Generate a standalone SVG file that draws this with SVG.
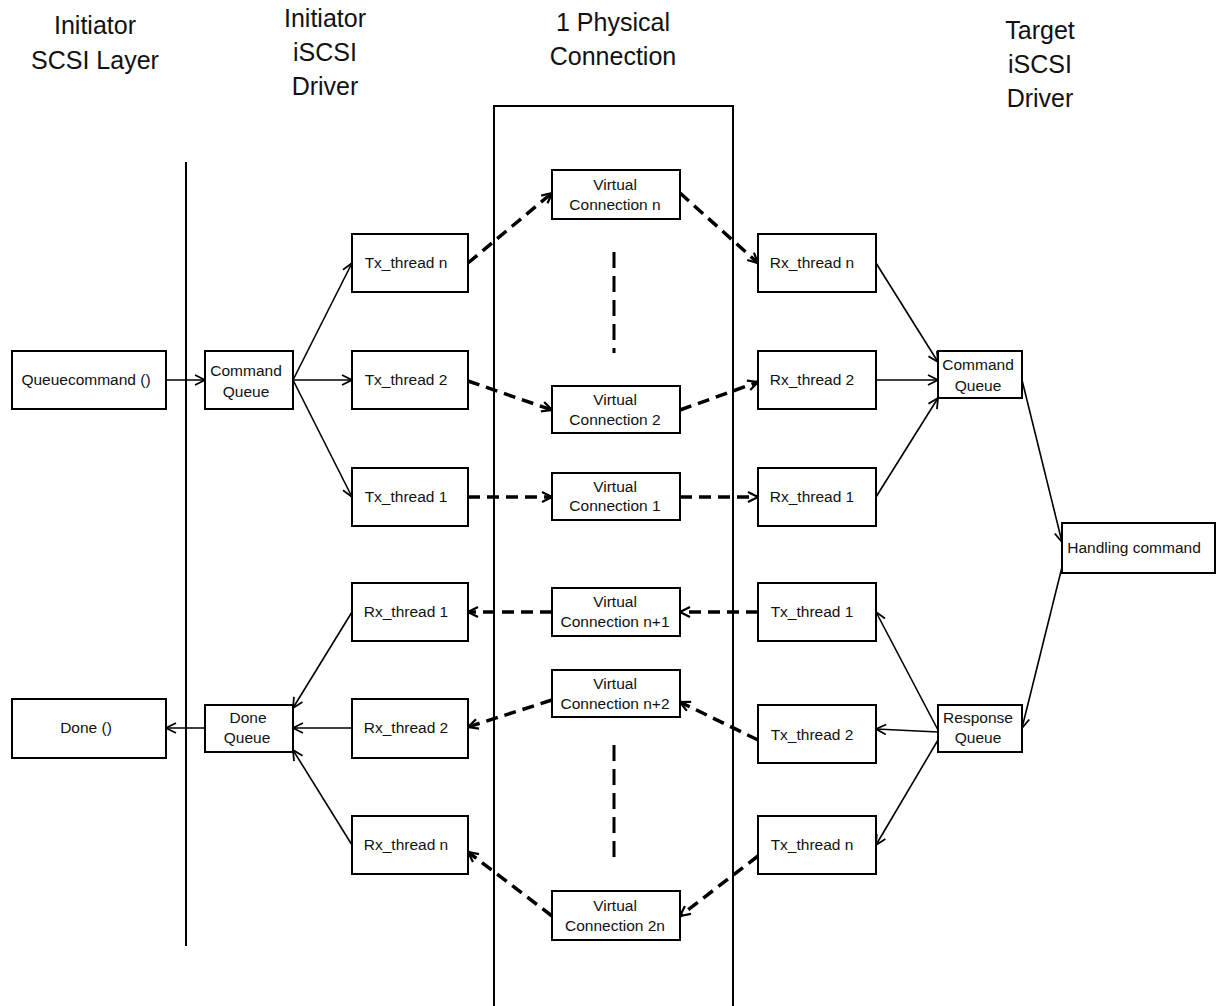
<svg xmlns="http://www.w3.org/2000/svg" width="1218" height="1006" viewBox="0 0 1218 1006">
  <style>
    .box { fill: #fff; stroke: #000; stroke-width: 2; }
    .lbl { font-family: "Liberation Sans", Arial, sans-serif; font-size: 15.5px; fill: #111; text-anchor: middle; }
    .hdr { font-family: "Liberation Sans", Arial, sans-serif; font-size: 25px; fill: #111; text-anchor: middle; }
    .solid { fill: none; stroke: #000; stroke-width: 1.6; marker-end: url(#arrow); }
    .dash { fill: none; stroke: #000; stroke-width: 3.5; stroke-dasharray: 12 7; marker-end: url(#arrowBold); }
    .frame { fill: none; stroke: #000; stroke-width: 2; }
    .gap { fill: none; stroke: #000; stroke-width: 3; stroke-dasharray: 16 8; }
  </style>
  <defs>
    <marker id="arrow" viewBox="0 0 12 12" refX="11" refY="6" markerWidth="12" markerHeight="12" markerUnits="userSpaceOnUse" orient="auto">
      <path d="M1,1 L11,6 L1,11" fill="none" stroke="#000" stroke-width="1.8"/>
    </marker>
    <marker id="arrowBold" viewBox="0 0 12 12" refX="11" refY="6" markerWidth="12" markerHeight="12" markerUnits="userSpaceOnUse" orient="auto">
      <path d="M1,1 L11,6 L1,11" fill="none" stroke="#000" stroke-width="2.2"/>
    </marker>
  </defs>

  <!-- column headings -->
  <g id="headings">
    <text class="hdr" x="95" y="34">Initiator</text>
    <text class="hdr" x="95" y="69">SCSI Layer</text>
    <text class="hdr" x="325" y="27">Initiator</text>
    <text class="hdr" x="325" y="61">iSCSI</text>
    <text class="hdr" x="325" y="95">Driver</text>
    <text class="hdr" x="613" y="31">1 Physical</text>
    <text class="hdr" x="613" y="65">Connection</text>
    <text class="hdr" x="1040" y="39">Target</text>
    <text class="hdr" x="1040" y="73">iSCSI</text>
    <text class="hdr" x="1040" y="107">Driver</text>
  </g>

  <!-- layer boundary and physical connection pipe -->
  <g id="boundaries">
    <line class="frame" x1="186" y1="162" x2="186" y2="946"/>
    <path class="frame" d="M494,1006 V106 H733 V1006"/>
    <line class="gap" x1="614" y1="252" x2="614" y2="353"/>
    <line class="gap" x1="614" y1="745" x2="614" y2="863"/>
  </g>

  <g id="connectors">
    <!-- solid -->
    <path class="solid" d="M166,380 L205,380"/>
    <path class="solid" d="M293,380 L352,263"/>
    <path class="solid" d="M293,380 L352,380"/>
    <path class="solid" d="M293,380 L352,497"/>
    <path class="solid" d="M876,263 L938,362"/>
    <path class="solid" d="M876,380 L938,380"/>
    <path class="solid" d="M876,497 L938,398"/>
    <path class="solid" d="M1022,380 L1062,542"/>
    <path class="solid" d="M1062,567 L1022,728"/>
    <path class="solid" d="M938,730 L876,612"/>
    <path class="solid" d="M938,732 L876,729"/>
    <path class="solid" d="M938,740 L876,845"/>
    <path class="solid" d="M352,612 L293,708"/>
    <path class="solid" d="M352,728 L293,728"/>
    <path class="solid" d="M352,845 L293,750"/>
    <path class="solid" d="M205,728 L166,728"/>
    <!-- dashed: virtual connections -->
    <path class="dash" d="M468,263 L552,193"/>
    <path class="dash" d="M680,193 L758,263"/>
    <path class="dash" d="M468,381 L552,410"/>
    <path class="dash" d="M680,410 L758,382"/>
    <path class="dash" d="M468,497 L552,497"/>
    <path class="dash" d="M680,497 L758,497"/>
    <path class="dash" d="M552,612 L468,612"/>
    <path class="dash" d="M758,612 L680,612"/>
    <path class="dash" d="M552,700 L468,727"/>
    <path class="dash" d="M758,740 L680,702"/>
    <path class="dash" d="M552,916 L468,852"/>
    <path class="dash" d="M758,856 L680,916"/>
  </g>

  <!-- initiator SCSI layer -->
  <g id="queuecommand">
    <rect class="box" x="12" y="351" width="154" height="58"/>
    <text class="lbl" x="86" y="385">Queuecommand ()</text>
  </g>
  <g id="done">
    <rect class="box" x="12" y="699" width="154" height="59"/>
    <text class="lbl" x="86" y="733">Done ()</text>
  </g>

  <!-- initiator iSCSI driver -->
  <g id="init-command-queue">
    <rect class="box" x="205" y="351" width="88" height="58"/>
    <text class="lbl" x="246" y="376">Command</text>
    <text class="lbl" x="246" y="397">Queue</text>
  </g>
  <g id="done-queue">
    <rect class="box" x="205" y="705" width="88" height="47"/>
    <text class="lbl" x="248" y="723">Done</text>
    <text class="lbl" x="247" y="743">Queue</text>
  </g>
  <g id="init-tx-n">
    <rect class="box" x="352" y="234" width="116" height="58"/>
    <text class="lbl" x="406" y="268">Tx_thread n</text>
  </g>
  <g id="init-tx-2">
    <rect class="box" x="352" y="351" width="116" height="58"/>
    <text class="lbl" x="406" y="385">Tx_thread 2</text>
  </g>
  <g id="init-tx-1">
    <rect class="box" x="352" y="468" width="116" height="58"/>
    <text class="lbl" x="406" y="502">Tx_thread 1</text>
  </g>
  <g id="init-rx-1">
    <rect class="box" x="352" y="583" width="116" height="58"/>
    <text class="lbl" x="406" y="617">Rx_thread 1</text>
  </g>
  <g id="init-rx-2">
    <rect class="box" x="352" y="699" width="116" height="59"/>
    <text class="lbl" x="406" y="733">Rx_thread 2</text>
  </g>
  <g id="init-rx-n">
    <rect class="box" x="352" y="816" width="116" height="58"/>
    <text class="lbl" x="406" y="850">Rx_thread n</text>
  </g>

  <!-- virtual connections -->
  <g id="vc-n">
    <rect class="box" x="552" y="170" width="128" height="49"/>
    <text class="lbl" x="615" y="190">Virtual</text>
    <text class="lbl" x="615" y="210">Connection n</text>
  </g>
  <g id="vc-2">
    <rect class="box" x="552" y="386" width="128" height="47"/>
    <text class="lbl" x="615" y="405">Virtual</text>
    <text class="lbl" x="615" y="425">Connection 2</text>
  </g>
  <g id="vc-1">
    <rect class="box" x="552" y="473" width="128" height="47"/>
    <text class="lbl" x="615" y="492">Virtual</text>
    <text class="lbl" x="615" y="511">Connection 1</text>
  </g>
  <g id="vc-n1">
    <rect class="box" x="552" y="588" width="128" height="48"/>
    <text class="lbl" x="615" y="607">Virtual</text>
    <text class="lbl" x="615" y="627">Connection n+1</text>
  </g>
  <g id="vc-n2">
    <rect class="box" x="552" y="670" width="128" height="47"/>
    <text class="lbl" x="615" y="689">Virtual</text>
    <text class="lbl" x="615" y="709">Connection n+2</text>
  </g>
  <g id="vc-2n">
    <rect class="box" x="552" y="891" width="128" height="49"/>
    <text class="lbl" x="615" y="911">Virtual</text>
    <text class="lbl" x="615" y="931">Connection 2n</text>
  </g>

  <!-- target iSCSI driver -->
  <g id="tgt-rx-n">
    <rect class="box" x="758" y="234" width="118" height="58"/>
    <text class="lbl" x="812" y="268">Rx_thread n</text>
  </g>
  <g id="tgt-rx-2">
    <rect class="box" x="758" y="351" width="118" height="58"/>
    <text class="lbl" x="812" y="385">Rx_thread 2</text>
  </g>
  <g id="tgt-rx-1">
    <rect class="box" x="758" y="468" width="118" height="58"/>
    <text class="lbl" x="812" y="502">Rx_thread 1</text>
  </g>
  <g id="tgt-tx-1">
    <rect class="box" x="758" y="583" width="118" height="58"/>
    <text class="lbl" x="812" y="617">Tx_thread 1</text>
  </g>
  <g id="tgt-tx-2">
    <rect class="box" x="758" y="705" width="118" height="58"/>
    <text class="lbl" x="812" y="740">Tx_thread 2</text>
  </g>
  <g id="tgt-tx-n">
    <rect class="box" x="758" y="816" width="118" height="58"/>
    <text class="lbl" x="812" y="850">Tx_thread n</text>
  </g>
  <g id="tgt-command-queue">
    <rect class="box" x="938" y="351" width="84" height="47"/>
    <text class="lbl" x="978" y="370">Command</text>
    <text class="lbl" x="978" y="391">Queue</text>
  </g>
  <g id="response-queue">
    <rect class="box" x="938" y="705" width="84" height="47"/>
    <text class="lbl" x="978" y="723">Response</text>
    <text class="lbl" x="978" y="743">Queue</text>
  </g>
  <g id="handling-command">
    <rect class="box" x="1062" y="523" width="153" height="50"/>
    <text class="lbl" x="1134" y="553">Handling command</text>
  </g>
</svg>
